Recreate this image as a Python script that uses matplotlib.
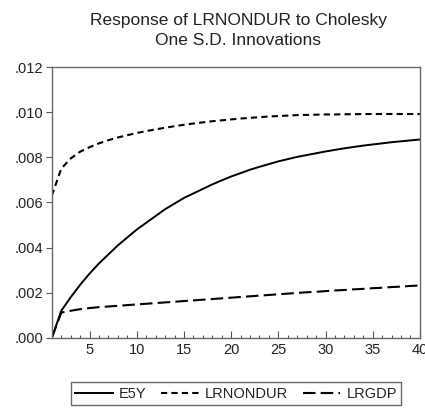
import numpy as np
import matplotlib
matplotlib.use("Agg")
import matplotlib.pyplot as plt
from matplotlib.ticker import MultipleLocator, FuncFormatter

plt.rcParams['font.family'] = ['Liberation Sans', 'DejaVu Sans']

# periodos
periodos = np.arange(1, 41)

# respuestas (en unidades de 0.001)
e5y = [0.0, 1.2, 1.8, 2.35, 2.85, 3.3, 3.7, 4.1, 4.45, 4.8,
       5.1, 5.4, 5.7, 5.95, 6.2, 6.4, 6.6, 6.8, 6.98, 7.15,
       7.3, 7.45, 7.58, 7.7, 7.82, 7.92, 8.02, 8.1, 8.18, 8.26,
       8.33, 8.4, 8.46, 8.52, 8.57, 8.62, 8.67, 8.71, 8.75, 8.79]
lrnondur = [6.3, 7.5, 7.95, 8.25, 8.45, 8.62, 8.76, 8.88, 8.98, 9.08,
            9.16, 9.24, 9.31, 9.38, 9.44, 9.5, 9.55, 9.6, 9.64, 9.68,
            9.72, 9.75, 9.78, 9.81, 9.83, 9.85, 9.87, 9.88, 9.89, 9.9,
            9.9, 9.91, 9.91, 9.92, 9.92, 9.92, 9.92, 9.92, 9.92, 9.92]
lrgdp = [0.0, 1.12, 1.2, 1.27, 1.32, 1.36, 1.39, 1.42, 1.45, 1.48,
         1.51, 1.54, 1.57, 1.6, 1.63, 1.66, 1.69, 1.72, 1.75, 1.78,
         1.81, 1.84, 1.87, 1.9, 1.93, 1.96, 1.99, 2.02, 2.04, 2.07,
         2.1, 2.12, 2.15, 2.17, 2.2, 2.22, 2.25, 2.27, 2.3, 2.32]

escala = 0.001
fig = plt.figure(figsize=(4.25, 4.09), dpi=100)
ax = fig.add_axes([0.122, 0.174, 0.866, 0.662])

ax.plot(periodos, np.array(e5y) * escala, color="black", lw=1.4, label="E5Y")
ax.plot(periodos, np.array(lrnondur) * escala, color="black", lw=1.5,
        dashes=(3, 2), label="LRNONDUR")
ax.plot(periodos, np.array(lrgdp) * escala, color="black", lw=1.5,
        dashes=(6, 2.5), label="LRGDP")

ax.set_xlim(1, 40)
ax.set_ylim(0, 0.012)
ax.xaxis.set_major_locator(MultipleLocator(5))
ax.xaxis.set_minor_locator(MultipleLocator(1))
ax.yaxis.set_major_locator(MultipleLocator(0.002))
ax.yaxis.set_major_formatter(FuncFormatter(lambda v, p: ("%.3f" % v).lstrip("0")))

ax.tick_params(axis="x", which="major", direction="in", length=5, width=0.8,
               labelsize=10.5, colors="#555555", labelcolor="#222222", pad=4)
ax.tick_params(axis="x", which="minor", direction="in", length=2.5, width=0.8,
               colors="#555555")
ax.tick_params(axis="y", direction="out", length=4, width=0.8,
               labelsize=10.5, colors="#555555", labelcolor="#222222", pad=2)
for s in ax.spines.values():
    s.set_color("#666666")
    s.set_linewidth(1.0)

fig.suptitle("Response of LRNONDUR to Cholesky\nOne S.D. Innovations",
             fontsize=12.5, color="#222222", x=0.56, y=0.968, linespacing=1.45)

leg = fig.legend(loc="lower center", bbox_to_anchor=(0.555, -0.008), ncol=3,
                 frameon=True, fancybox=False, fontsize=10.5, handlelength=2.6,
                 columnspacing=1.0, handletextpad=0.4, borderpad=0.3)
leg.get_frame().set_edgecolor("#444444")
leg.get_frame().set_linewidth(1.0)
for t in leg.get_texts():
    t.set_color("#222222")

fig.savefig("out.png", dpi=100)
